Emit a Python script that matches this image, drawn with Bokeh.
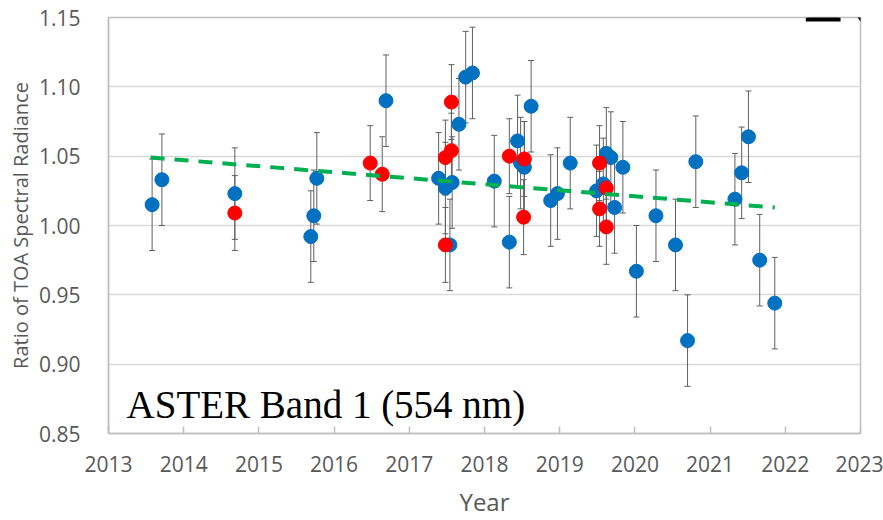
from bokeh.plotting import figure
from bokeh.models import ColumnDataSource, Whisker, TeeHead, FixedTicker, Label, NumeralTickFormatter
from bokeh.embed import file_html
from bokeh.resources import INLINE

# ---- data ----
years_blue = [2013.58, 2013.71, 2014.68, 2015.69, 2015.73, 2015.77, 2016.69, 2017.39, 2017.48, 2017.54,
              2017.57, 2017.66, 2017.75, 2017.84, 2018.13, 2018.33, 2018.44, 2018.48, 2018.53, 2018.62,
              2018.88, 2018.97, 2019.14, 2019.49, 2019.58, 2019.62, 2019.68, 2019.73, 2019.84, 2020.02,
              2020.28, 2020.54, 2020.70, 2020.81, 2021.33, 2021.42, 2021.51, 2021.66, 2021.86]
ratio_blue = [1.015, 1.033, 1.023, 0.992, 1.007, 1.034, 1.090, 1.034, 1.027, 0.986,
              1.031, 1.073, 1.107, 1.110, 1.032, 0.988, 1.061, 1.045, 1.042, 1.086,
              1.018, 1.023, 1.045, 1.025, 1.030, 1.052, 1.049, 1.013, 1.042, 0.967,
              1.007, 0.986, 0.917, 1.046, 1.019, 1.038, 1.064, 0.975, 0.944]
err_blue = [0.033] * len(ratio_blue)

years_red = [2014.68, 2016.48, 2016.64, 2017.48, 2017.48, 2017.56, 2017.56, 2018.33, 2018.52, 2018.53,
             2019.53, 2019.53, 2019.62, 2019.62]
ratio_red = [1.009, 1.045, 1.037, 0.986, 1.049, 1.054, 1.089, 1.050, 1.006, 1.048,
             1.045, 1.012, 1.027, 0.999]
err_red = [0.027] * len(ratio_red)

trend_x = [2013.56, 2021.86]
trend_y = [1.049, 1.013]

x_ticks = [2013, 2014, 2015, 2016, 2017, 2018, 2019, 2020, 2021, 2022, 2023]
y_ticks = [0.85, 0.90, 0.95, 1.00, 1.05, 1.10, 1.15]

GRAY_TXT = "#595959"
FONT = "Open Sans"

p = figure(width=883, height=520, output_backend="svg", toolbar_location=None,
           x_range=(2013, 2023), y_range=(0.85, 1.15),
           min_border_left=108, min_border_right=23, min_border_top=17, min_border_bottom=84)
p.background_fill_color = "white"
p.border_fill_color = "white"
p.outline_line_color = "#BFBFBF"
p.outline_line_width = 1.5

p.xgrid.grid_line_color = None
p.ygrid.grid_line_color = "#D9D9D9"
p.ygrid.grid_line_width = 1.5
p.ygrid.ticker = FixedTicker(ticks=y_ticks)

p.xaxis.ticker = FixedTicker(ticks=x_ticks)
p.yaxis.ticker = FixedTicker(ticks=y_ticks)
p.yaxis.formatter = NumeralTickFormatter(format="0.00")

for ax in (p.xaxis[0], p.yaxis[0]):
    ax.axis_line_color = "#BFBFBF"
    ax.axis_line_width = 1.5
    ax.major_label_text_color = GRAY_TXT
    ax.major_label_text_font = FONT
    ax.major_label_text_font_size = "21px"
    ax.axis_label_text_color = GRAY_TXT
    ax.axis_label_text_font = FONT
    ax.axis_label_text_font_style = "normal"
    ax.minor_tick_line_color = None

p.xaxis.major_tick_in = 7
p.xaxis.major_tick_out = 0
p.xaxis.major_tick_line_color = "#BFBFBF"
p.xaxis.major_tick_line_width = 1.5
p.xaxis.major_label_standoff = 22
p.xaxis.axis_label = "Year"
p.xaxis.axis_label_text_font_size = "24px"
p.xaxis.axis_label_standoff = 10

p.yaxis.major_tick_line_color = None
p.yaxis.major_label_standoff = 22
p.yaxis.axis_label = "Ratio of TOA Spectral Radiance"
p.yaxis.axis_label_text_font_size = "20px"
p.yaxis.axis_label_standoff = 2

src_b = ColumnDataSource(dict(x=years_blue, y=ratio_blue,
                              lo=[v - e for v, e in zip(ratio_blue, err_blue)],
                              hi=[v + e for v, e in zip(ratio_blue, err_blue)]))
src_r = ColumnDataSource(dict(x=years_red, y=ratio_red,
                              lo=[v - e for v, e in zip(ratio_red, err_red)],
                              hi=[v + e for v, e in zip(ratio_red, err_red)]))

for src in (src_b, src_r):
    w = Whisker(source=src, base="x", upper="hi", lower="lo", dimension="height",
                line_color="#606060", line_width=1,
                upper_head=TeeHead(size=6, line_color="#606060", line_width=1),
                lower_head=TeeHead(size=6, line_color="#606060", line_width=1))
    p.add_layout(w)

p.scatter("x", "y", source=src_b, size=14, fill_color="#0070C0", line_color="#0070C0")
p.scatter("x", "y", source=src_r, size=14, fill_color="#FF0000", line_color="#FF0000")

p.line(trend_x, trend_y, line_color="#00B050", line_width=4, line_dash="14 10")

p.add_layout(Label(x=2013.24, y=0.8708, text="ASTER Band 1 (554 nm)",
                   text_font="Liberation Serif", text_font_size="39px",
                   text_color="black", text_baseline="alphabetic"))

p.add_layout(Label(x=2022.24, y=1.1579, y_offset=22, text="R",
                   text_font="Liberation Serif", text_font_size="110px", text_font_style="bold",
                   text_color="black", text_baseline="alphabetic"))

open("out.html", "w").write(file_html(p, INLINE))
